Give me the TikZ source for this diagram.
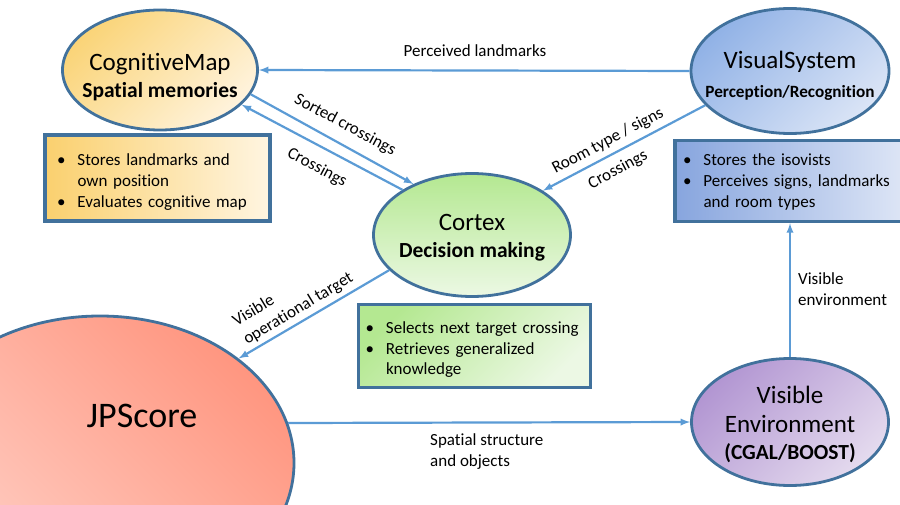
\documentclass[tikz,border=0pt]{standalone}
\usepackage{fontspec}
\setmainfont{Carlito}[Ligatures=NoCommon]
\usetikzlibrary{shapes.geometric}

\definecolor{frame}{RGB}{65,113,156}
\definecolor{wire}{RGB}{91,155,213}
\definecolor{cogA}{RGB}{250,212,120}
\definecolor{cogB}{RGB}{255,243,220}
\definecolor{cogboxA}{RGB}{250,208,110}
\definecolor{cogboxB}{RGB}{255,245,225}
\definecolor{visA}{RGB}{145,178,230}
\definecolor{visB}{RGB}{218,228,246}
\definecolor{visboxA}{RGB}{135,165,222}
\definecolor{visboxB}{RGB}{222,230,246}
\definecolor{cortA}{RGB}{180,232,145}
\definecolor{cortB}{RGB}{236,248,228}
\definecolor{envA}{RGB}{178,150,210}
\definecolor{envB}{RGB}{228,218,238}
\definecolor{jpA}{RGB}{255,150,128}
\definecolor{jpB}{RGB}{255,208,198}

\newcommand\subhead{\bfseries\fontsize{21.5}{29}\selectfont}
\newcommand\bul{\makebox[20.5pt][l]{\textbullet}}
\newcommand\ind{\hspace*{20.5pt}}
\newcommand\lead[1]{\rule{0pt}{#1pt}}
\newcommand\tail{\rule[-5pt]{0pt}{5pt}}

\begin{document}
\begin{tikzpicture}[x=1pt, y=-1pt,
        bubble/.style = {ellipse, draw=frame, line width=2.8pt, inner sep=0pt},
        title/.style = {align=center, inner sep=0pt, font=\fontsize{25}{29}\selectfont},
        infobox/.style = {rectangle, draw=frame, line width=3.5pt, inner ysep=0pt, align=left, font=\fontsize{17}{21}\selectfont},
        link/.style = {->, draw=wire, line width=2.2pt},
        tag/.style = {inner sep=0pt, align=left, font=\fontsize{17}{21}\selectfont},
        >=latex]
    \useasboundingbox (0,0) rectangle (900,505);

    % modules
    \node[bubble, minimum width=388pt, minimum height=294pt, top color=jpA, bottom color=jpB, shading angle=-45] (jpscore) at (100,463) {};
    \node[bubble, minimum width=195pt, minimum height=120pt, top color=cogA, bottom color=cogB, shading angle=45] (cogmap) at (160,70) {};
    \node[bubble, minimum width=198pt, minimum height=125pt, top color=visA, bottom color=visB, shading angle=45] (vissys) at (790,71) {};
    \node[bubble, minimum width=197pt, minimum height=123pt, top color=cortA, bottom color=cortB] (cortex) at (472,235) {};
    \node[bubble, minimum width=197pt, minimum height=127pt, top color=envA, bottom color=envB, shading angle=45] (visenv) at (790,422) {};

    \node[title, font=\fontsize{36}{40}\selectfont] (jptitle) at (142,416) {JPScore};
    \node[title] (cogtitle) at (160,77) {CognitiveMap\\[-2pt]\subhead Spatial memories};
    \node[title] (vistitle) at (790,76) {VisualSystem\\\bfseries\fontsize{17.2}{20}\selectfont Perception/Recognition};
    \node[title] (corttitle) at (472,238) {Cortex\\[-2pt]\subhead Decision making};
    \node[title] (envtitle) at (790,424) {Visible\\Environment\\[-2pt]\subhead (CGAL/BOOST)};

    % boxes
    \node[infobox, inner xsep=12pt, text width=201pt, minimum height=86pt, left color=cogboxA, right color=cogboxB] (cogbox) at (157.5,178)
        {\lead{23}\bul Stores landmarks and\\\ind own position\\\bul Evaluates cognitive map\tail};
    \node[infobox, inner xsep=8pt, text width=214pt, minimum height=81pt, left color=visboxA, right color=visboxB] (visbox) at (790,181)
        {\lead{17}\bul Stores the isovists\\\bul Perceives signs, landmarks\\\ind and room types\tail};
    \node[infobox, inner xsep=7pt, text width=218pt, minimum height=83pt, top color=cortA, bottom color=cortB, shading angle=45] (cortbox) at (474.5,346)
        {\lead{21}\bul Selects next target crossing\\\bul Retrieves generalized\\\ind knowledge\tail};

    % connectors
    \draw[link] (vissys.west) -- (cogmap.east);
    \draw[link] (cogmap.345) -- (cortex.139);
    \draw[link] (cortex.147) -- (cogmap.337);
    \draw[link] (vissys.202) -- (cortex.32);
    \draw[link] (cortex.203) -- (jpscore.37);
    \draw[link] (jpscore.12) -- (visenv.west);
    \draw[link] (visenv.north) -- (visbox.south);

    % labels
    \node[tag, anchor=base] (lblperceived) at (475,57) {Perceived landmarks};
    \node[tag, rotate=-28] (lblsorted) at (345,125) {Sorted crossings};
    \node[tag, rotate=-28] (lblcrossl) at (317,168) {Crossings};
    \node[tag, rotate=28] (lblroom) at (608,141) {Room type / signs};
    \node[tag, rotate=28] (lblcrossr) at (618,170) {Crossings};
    \node[tag, rotate=31] (lbltarget) at (293,300) {Visible\\operational target};
    \node[tag, anchor=west] (lblspatial) at (430,452) {Spatial structure\\and objects};
    \node[tag, anchor=west] (lblvisible) at (798,289) {Visible\\environment};
\end{tikzpicture}
\end{document}
